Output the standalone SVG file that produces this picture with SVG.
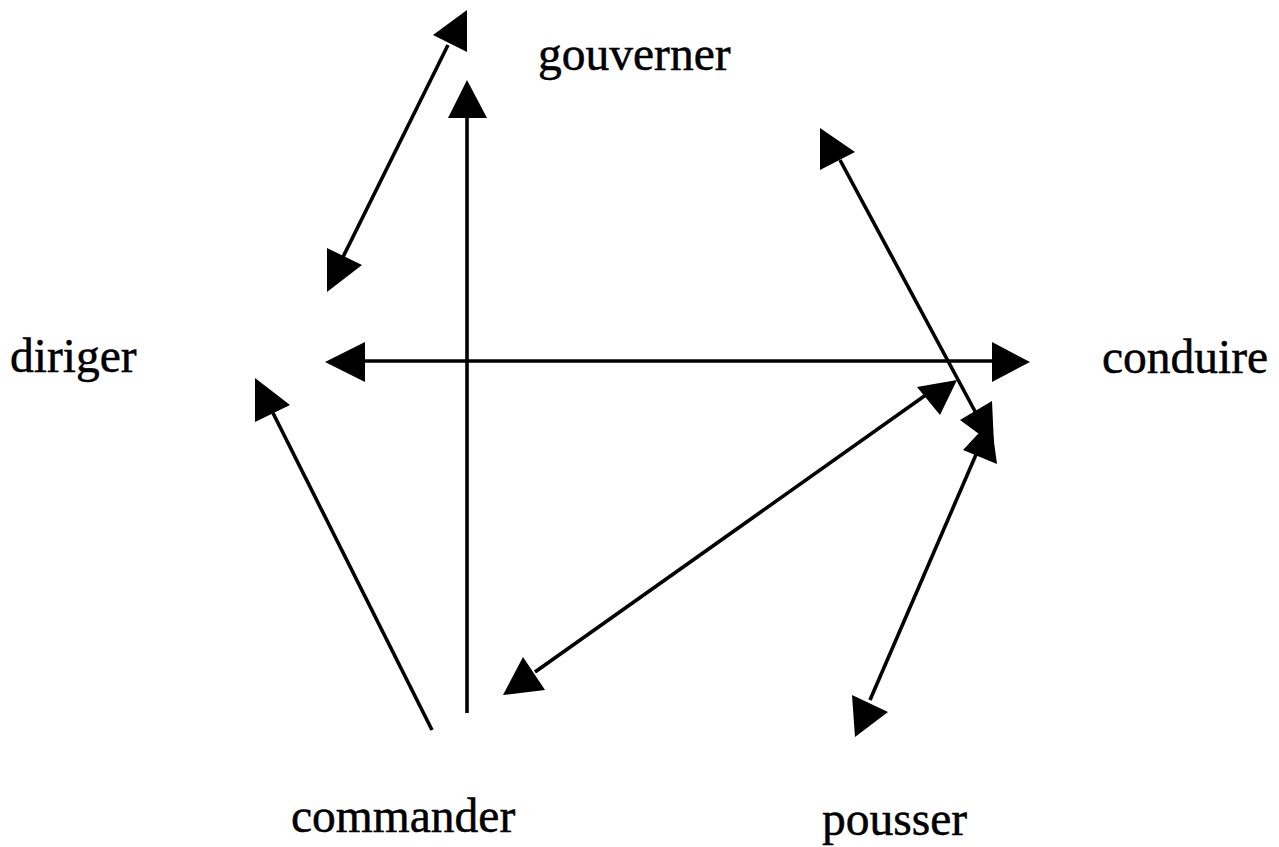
<svg xmlns="http://www.w3.org/2000/svg" width="1279" height="847" viewBox="0 0 1279 847">
<style>
.lbl{font-family:"Liberation Serif","Times New Roman",serif;font-size:47.5px;fill:#000;stroke:#000;stroke-width:0.5}
.ln{stroke:#000;stroke-width:3.6;fill:none}
.hd{fill:#000;stroke:none}
</style>
<rect width="1279" height="847" fill="#fff"/>
<g id="connectors">
<g id="e-gouverner-diriger">
<line class="ln" x1="343" y1="257" x2="448" y2="45"/>
<polygon class="hd" points="467,10 467,52 433,35"/>
<polygon class="hd" points="327,248 327,292 362,265"/>
</g>
<g id="e-commander-gouverner">
<line class="ln" x1="467" y1="118" x2="467" y2="713"/>
<polygon class="hd" points="448,118 487,118 467,80"/>
</g>
<g id="e-diriger-conduire">
<line class="ln" x1="365" y1="361" x2="992" y2="361"/>
<polygon class="hd" points="325,362 365,342 365,382"/>
<polygon class="hd" points="992,342 992,382 1030,362"/>
</g>
<g id="e-top-conduire">
<line class="ln" x1="840" y1="160" x2="977" y2="415"/>
<polygon class="hd" points="820,128 820,170 855,152"/>
<polygon class="hd" points="960,420 992,401 994,445"/>
</g>
<g id="e-conduire-pousser">
<line class="ln" x1="978" y1="450" x2="870" y2="700"/>
<polygon class="hd" points="963,450 997,464 991,420"/>
<polygon class="hd" points="852,695 855,737 888,712"/>
</g>
<g id="e-conduire-commander">
<line class="ln" x1="535" y1="672" x2="930" y2="392"/>
<polygon class="hd" points="917,387 957,380 940,415"/>
<polygon class="hd" points="503,695 523,657 545,690"/>
</g>
<g id="e-commander-diriger">
<line class="ln" x1="273" y1="413" x2="432" y2="730"/>
<polygon class="hd" points="255,378 255,422 290,405"/>
</g>
</g>
<g id="gouverner"><text class="lbl" x="538" y="70">gouverner</text></g>
<g id="diriger"><text class="lbl" x="10" y="372">diriger</text></g>
<g id="conduire"><text class="lbl" x="1102" y="373">conduire</text></g>
<g id="commander"><text class="lbl" x="291" y="832">commander</text></g>
<g id="pousser"><text class="lbl" x="822" y="835">pousser</text></g>
</svg>
